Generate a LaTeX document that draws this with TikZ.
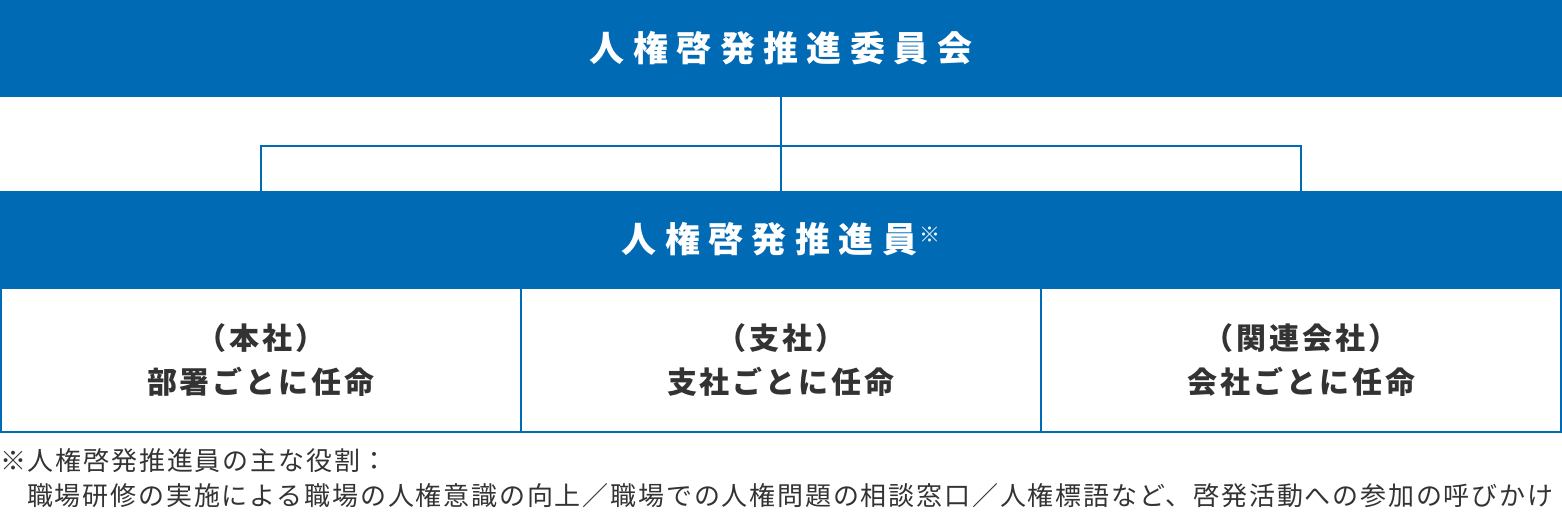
\documentclass[tikz,border=0pt]{standalone}
\usepackage{fontspec}
\setmainfont{Noto Sans CJK JP}
\newfontfamily\headfont[LetterSpace=24]{Noto Sans CJK JP}
\newfontfamily\boxfont[LetterSpace=10]{Noto Sans CJK JP}
\newfontfamily\notefont[LetterSpace=7]{Noto Sans CJK JP}
\definecolor{bandblue}{RGB}{0,106,180}
\definecolor{inkgray}{RGB}{51,51,51}

\begin{document}
\begin{tikzpicture}[x=1pt,y=1pt,
    band/.style={fill=bandblue, text=white, minimum width=1562pt, minimum height=97pt,
      inner sep=0pt, outer sep=0pt, font=\headfont\bfseries\fontsize{35}{35}\selectfont},
    unit/.style={draw=bandblue, line width=2pt, minimum width=520pt, minimum height=144pt,
      inner sep=0pt, outer sep=0pt, align=center, text=inkgray,
      font=\boxfont\bfseries\fontsize{30}{44}\selectfont},
    link/.style={draw=bandblue, line width=2.5pt},
    note/.style={anchor=base west, inner sep=0pt, text=inkgray,
      font=\notefont\fontsize{26}{26}\selectfont}]
  \useasboundingbox (0,0) rectangle (1562,514);
  \node[band] (committee) at (781,465.5) {人権啓発推進委員会};
  \node[band] (promoter) at (781,274.5) {人権啓発推進員\hspace{2pt}\raisebox{10pt}{\mdseries\fontsize{21}{21}\selectfont ※}};
  \node[unit] (hq) at (261,154) {（本社）\\部署ごとに任命};
  \node[unit] (branch) at (781,154) {（支社）\\支社ごとに任命};
  \node[unit] (group) at (1301,154) {（関連会社）\\会社ごとに任命};
  \coordinate (hub) at (781,368);
  \draw[link] (committee) -- (promoter);
  \draw[link] (promoter.north -| hq) |- (hub) -| (promoter.north -| group);
  \node[note] (role) at (0,44) {※人権啓発推進員の主な役割：};
  \node[note] (duty) at (27,9) {職場研修の実施による職場の人権意識の向上／職場での人権問題の相談窓口／人権標語など、啓発活動への参加の呼びかけ};
\end{tikzpicture}
\end{document}
